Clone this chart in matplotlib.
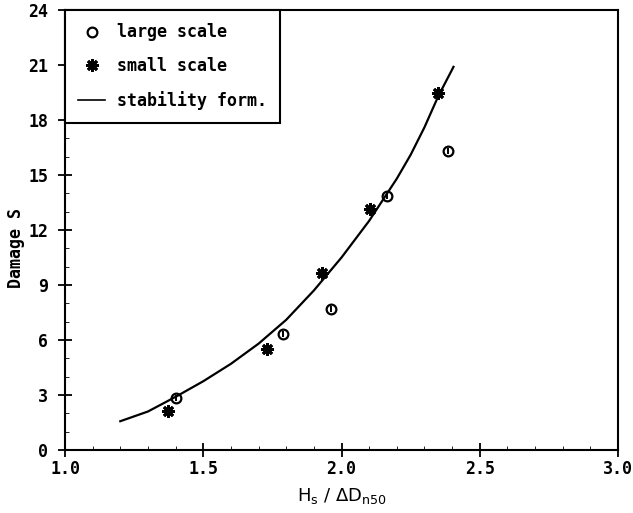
import matplotlib
matplotlib.use("Agg")
import matplotlib.pyplot as plt
from matplotlib.lines import Line2D
from matplotlib.ticker import MultipleLocator

# Data
large_x = [1.402, 1.789, 1.961, 2.166, 2.384]
large_y = [2.84, 6.35, 7.71, 13.87, 16.32]

small_x = [1.371, 1.730, 1.930, 2.102, 2.348]
small_y = [2.15, 5.51, 9.66, 13.14, 19.47]

curve_x = [1.20, 1.30, 1.40, 1.50, 1.60, 1.70, 1.80, 1.90, 2.00, 2.10, 2.20, 2.25, 2.30, 2.35, 2.40, 2.405]
curve_y = [1.57, 2.1, 2.9, 3.75, 4.7, 5.8, 7.1, 8.7, 10.5, 12.5, 14.8, 16.1, 17.6, 19.3, 20.75, 20.9]

xticks = [1.0, 1.5, 2.0, 2.5, 3.0]
yticks = [0, 3, 6, 9, 12, 15, 18, 21, 24]

plt.rcParams['font.family'] = ['DejaVu Sans Mono']
plt.rcParams['font.weight'] = 'bold'

fig = plt.figure(figsize=(6.33, 5.13), dpi=100)
ax = fig.add_axes([65/633, 63/513, 553/633, 440/513])

ax.plot(curve_x, curve_y, color='black', lw=1.6, label='stability form.')
ax.plot(large_x, large_y, linestyle='none', marker='o', ms=7, mfc='none',
        mec='black', mew=1.6, label='large scale')
ax.plot(large_x, large_y, linestyle='none', marker='|', ms=4, mec='black', mew=1.4)
ax.plot(small_x, small_y, linestyle='none', marker=(8, 2, 0), ms=9,
        mec='black', mew=2.0, label='small scale')

ax.set_xlim(1.0, 3.0)
ax.set_ylim(0, 24)
ax.set_xticks(xticks)
ax.set_yticks(yticks)
ax.set_xticklabels([f"{v:.1f}" for v in xticks], fontsize=12, fontweight='bold')
ax.set_yticklabels([str(v) for v in yticks], fontsize=12, fontweight='bold')
ax.xaxis.set_minor_locator(MultipleLocator(0.1))
ax.yaxis.set_minor_locator(MultipleLocator(1))
ax.tick_params(which='major', direction='inout', length=10, width=1.3)
ax.tick_params(axis='x', which='major', pad=2)
ax.tick_params(axis='y', which='major', pad=7)
ax.tick_params(which='minor', direction='in', length=3, width=0.6)
for s in ax.spines.values():
    s.set_linewidth(1.5)

ax.set_xlabel(r'H$_\mathregular{s}$ / $\mathregular{\Delta}$D$_\mathregular{n50}$',
              fontsize=13, fontweight='normal', labelpad=6, family='DejaVu Sans')
ax.set_ylabel('Damage S', fontsize=12, fontweight='bold')
ax.yaxis.set_label_coords(-0.073, 0.46)

handles = [
    Line2D([], [], linestyle='none', marker='o', ms=7, mfc='none', mec='black', mew=1.6),
    Line2D([], [], linestyle='none', marker=(8, 2, 0), ms=9, mec='black', mew=2.0),
    Line2D([], [], color='black', lw=1.2),
]
leg = ax.legend(handles, ['large scale', 'small scale', 'stability form.'],
                loc='upper left', bbox_to_anchor=(0, 1), borderaxespad=0,
                fancybox=False, edgecolor='black', framealpha=1,
                prop={'size': 12, 'weight': 'bold', 'family': 'DejaVu Sans Mono'},
                labelspacing=0.95, handlelength=1.6, borderpad=0.8, handletextpad=0.7)
leg.get_frame().set_linewidth(1.5)

fig.savefig('out.png', dpi=100)
